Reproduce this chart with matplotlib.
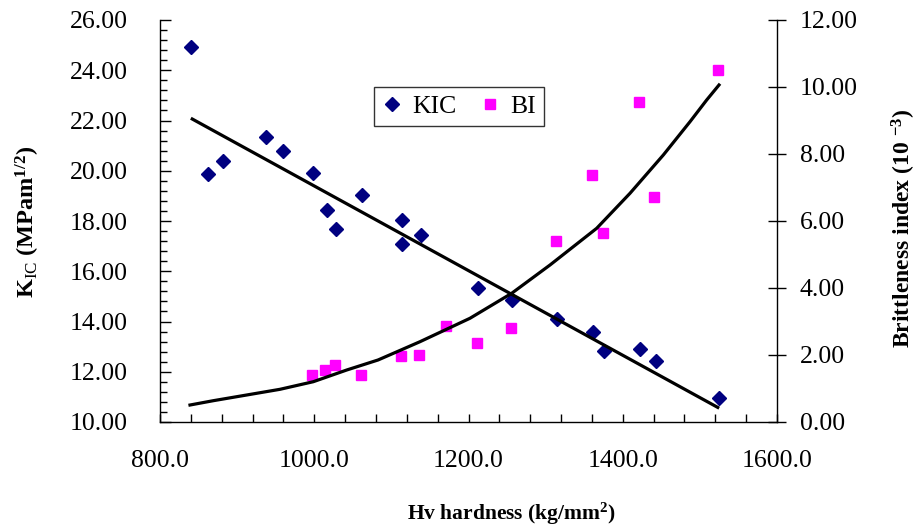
import matplotlib
matplotlib.use('Agg')
import matplotlib.pyplot as plt
from matplotlib.ticker import MultipleLocator, FormatStrFormatter

plt.rcParams['font.family'] = ['Liberation Serif', 'DejaVu Serif']
plt.rcParams['mathtext.fontset'] = 'custom'
plt.rcParams['mathtext.rm'] = 'Liberation Serif'
plt.rcParams['mathtext.bf'] = 'Liberation Serif:bold'
plt.rcParams['mathtext.it'] = 'Liberation Serif:italic'

# ---- data ----
hv_kic = [840.2, 862.2, 882.1, 937.5, 959.9, 998.8, 1016.1, 1028.2, 1062.4,
          1113.4, 1113.4, 1138.0, 1212.7, 1256.8, 1315.1, 1361.0, 1375.7,
          1422.4, 1442.7, 1524.8]
kic = [24.91, 19.86, 20.39, 21.34, 20.79, 19.92, 18.44, 17.69, 19.03,
       18.03, 17.08, 17.43, 15.33, 14.86, 14.09, 13.57, 12.83, 12.91,
       12.44, 10.96]

hv_bi = [997.1, 1014.4, 1027.0, 1060.7, 1112.2, 1136.3, 1170.6, 1211.6,
         1255.2, 1313.8, 1360.5, 1374.4, 1421.1, 1440.6, 1523.1]
bi = [1.39, 1.55, 1.69, 1.39, 1.96, 2.00, 2.87, 2.36, 2.81, 5.40, 7.37,
      5.65, 9.54, 6.71, 10.51]

kic_trend_hv = [840.0, 1525.0]
kic_trend = [22.09, 10.55]

bi_curve_hv = [838.9, 869.1, 912.4, 955.6, 998.8, 1042.1, 1082.7, 1137.1,
               1201.9, 1256.0, 1305.7, 1366.2, 1409.4, 1452.6, 1487.2,
               1508.8, 1524.8]
bi_curve = [0.507, 0.636, 0.806, 0.976, 1.203, 1.552, 1.851, 2.397, 3.096,
            3.842, 4.687, 5.782, 6.827, 7.970, 8.964, 9.612, 10.06]

x_ticks = [800, 1000, 1200, 1400, 1600]
left_ticks = [10, 12, 14, 16, 18, 20, 22, 24, 26]
right_ticks = [0, 2, 4, 6, 8, 10, 12]

# ---- figure ----
fig = plt.figure(figsize=(9.2, 5.29), dpi=100)
ax = fig.add_axes([160/920, 1-422/529, 617/920, 402/529])
ax2 = ax.twinx()

navy = '#000080'
magenta = '#FF00FF'

h1, = ax.plot(hv_kic, kic, linestyle='none', marker='D', ms=7,
              color=navy, mec=navy, label='KIC', zorder=3)
ax.plot(kic_trend_hv, kic_trend, color='black', lw=2.3, zorder=4,
        solid_capstyle='butt')

h2, = ax2.plot(hv_bi, bi, linestyle='none', marker='s', ms=7.2,
               color=magenta, mec=magenta, label='BI', zorder=3)
ax2.plot(bi_curve_hv, bi_curve, color='black', lw=2.3, zorder=4)

ax.set_xlim(800, 1600)
ax.set_ylim(10, 26)
ax2.set_ylim(0, 12)

ax.set_xticks(x_ticks)
ax.xaxis.set_major_formatter(FormatStrFormatter('%.1f'))
ax.xaxis.set_minor_locator(MultipleLocator(40))
ax.set_yticks(left_ticks)
ax.yaxis.set_major_formatter(FormatStrFormatter('%.2f'))
ax.yaxis.set_minor_locator(MultipleLocator(0.4))
ax2.set_yticks(right_ticks)
ax2.yaxis.set_major_formatter(FormatStrFormatter('%.2f'))

fs = 18.5
ax.tick_params(axis='x', which='both', direction='in', length=6, width=1,
               pad=20, labelsize=fs, top=False)
ax.tick_params(axis='y', which='major', direction='in', length=8, width=1,
               pad=23, labelsize=fs)
ax.tick_params(axis='y', which='minor', direction='in', length=5, width=1)
ax2.tick_params(axis='y', which='major', direction='inout', length=13,
                width=1, pad=10, labelsize=fs)

for a in (ax, ax2):
    a.spines['top'].set_visible(False)
    for s in ('left', 'bottom', 'right'):
        a.spines[s].set_color('black')
        a.spines[s].set_linewidth(1)
ax.spines['right'].set_visible(False)
ax2.spines['left'].set_visible(False)
ax2.spines['bottom'].set_visible(False)

fig.text(511/920, 1-514/529, 'Hv hardness (kg/mm$^{\\mathbf{2}}$)',
         fontsize=15.5, fontweight='bold', ha='center', va='center')
fig.text(28/920, 1-222/529,
         'K$_{\\mathrm{IC}}$ (MPam$^{\\mathbf{1/2}}$)',
         fontsize=17.5, fontweight='bold', rotation=90,
         ha='center', va='center')
fig.text(904/920, 1-228/529,
         'Brittleness index (10 $^{\\mathbf{-3}}$)',
         fontsize=17, fontweight='bold', rotation=90,
         ha='center', va='center')

leg = ax2.legend(handles=[h1, h2], ncol=2, loc='center',
                 bbox_to_anchor=((459-160)/617, (422-106.3)/402),
                 fontsize=fs, frameon=True, fancybox=False, shadow=False,
                 borderpad=0.3, handlelength=0.8, handletextpad=0.4,
                 columnspacing=0.9, borderaxespad=0)
leg.get_frame().set_edgecolor('black')
leg.get_frame().set_linewidth(1)

fig.savefig('out.png', dpi=100)
